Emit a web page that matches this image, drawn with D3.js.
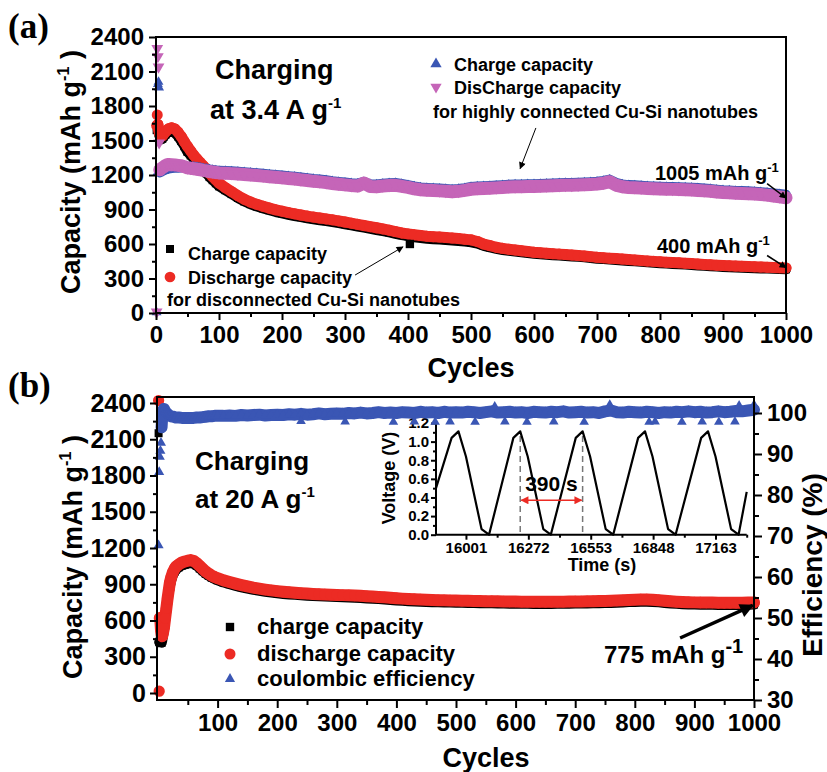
<!DOCTYPE html>
<html>
<head>
<meta charset="utf-8">
<script src="https://cdn.jsdelivr.net/npm/d3@7"></script>
<style>
  body { margin: 0; background: #fff; }
  svg { display: block; }
  text { font-family: "Liberation Sans", Arial, sans-serif; font-weight: bold; fill: #000; }
</style>
</head>
<body>
<svg id="chart" width="827" height="772"></svg>
<script>
// ---------- panel (a) data ----------
const cyclesA = [1,2,3,4,5,6,8,10,12,15,18,20,25,30,35,40,45,50,55,60,65,70,75,80,85,90,95,100,
  110,120,130,140,150,160,170,180,190,200,
  210,220,230,240,250,260,270,280,290,300,
  310,320,330,340,350,360,370,380,390,400,
  410,420,430,440,450,460,470,480,490,500,
  510,520,530,540,550,560,570,580,590,600,
  610,620,630,640,650,660,670,680,690,700,
  710,720,730,740,750,760,770,780,790,800,
  810,820,830,840,850,860,870,880,890,900,
  910,920,930,940,950,960,970,980,990,1000];

// highly connected: charge (blue) / discharge (magenta)
const chargeHighA = [5,1218,1990,2010,1960,1222,1228,1235,1240,1248,1252,1256,1260,1262,1264,1266,1268,1270,1272,1272,1268,1264,1258,1254,1248,1244,1240,1236,
  1235,1232,1228,1224,1220,1215,1210,1205,1200,1195,
  1190,1185,1178,1172,1165,1160,1154,1146,1140,1134,
  1128,1125,1140,1120,1118,1124,1128,1130,1122,1112,
  1100,1092,1088,1085,1082,1078,1075,1078,1086,1096,
  1100,1102,1105,1108,1112,1115,1117,1118,1120,1120,
  1122,1124,1126,1128,1130,1130,1132,1135,1138,1142,
  1148,1160,1132,1118,1112,1110,1106,1103,1100,1098,
  1096,1095,1093,1092,1090,1086,1082,1078,1073,1068,
  1065,1062,1060,1058,1055,1050,1046,1040,1034,1028];
const dischargeHighA = [10,2300,2230,2140,1480,1245,1255,1262,1270,1282,1290,1292,1290,1288,1284,1280,1272,1262,1258,1255,1250,1246,1240,1236,1230,1226,1222,1218,
  1215,1212,1208,1204,1200,1195,1190,1185,1180,1175,
  1170,1165,1158,1152,1145,1140,1134,1126,1120,1114,
  1108,1104,1130,1100,1098,1104,1108,1110,1102,1092,
  1080,1072,1068,1065,1062,1058,1055,1058,1066,1076,
  1080,1082,1085,1088,1092,1095,1097,1098,1100,1100,
  1102,1104,1106,1108,1110,1110,1112,1115,1118,1122,
  1128,1142,1112,1098,1092,1090,1086,1083,1080,1078,
  1076,1075,1073,1072,1070,1066,1062,1058,1053,1048,
  1045,1042,1040,1038,1035,1030,1025,1018,1010,1002];

// disconnected: charge (black) / discharge (red)
const chargeDiscA = [1590,1600,1590,1570,1550,1530,1510,1515,1530,1550,1565,1572,1580,1565,1535,1495,1450,1400,1370,1340,1305,1275,1245,1215,1182,1155,1128,1102,
  1068,1034,1000,970,946,926,909,893,878,866,
  854,843,833,824,815,807,799,791,782,772,
  762,752,742,732,722,712,701,689,677,668,
  658,652,646,642,638,634,630,626,621,615,
  604,584,570,558,548,541,534,527,521,515,
  511,507,503,499,495,492,488,484,478,472,
  469,465,461,457,453,449,445,441,437,433,
  430,427,424,421,418,414,410,407,404,401,
  398,396,394,392,390,388,386,384,382,380];
const dischargeDiscA = [1630,1722,1640,1600,1575,1555,1535,1540,1555,1575,1592,1602,1610,1600,1572,1535,1490,1448,1410,1372,1340,1310,1280,1250,1215,1185,1158,1130,
  1090,1055,1020,990,965,945,928,912,897,885,
  873,862,852,843,834,826,818,810,801,791,
  781,771,761,751,741,731,720,708,696,688,
  680,674,668,664,660,656,652,648,642,636,
  622,600,586,572,562,555,548,541,535,528,
  524,520,516,512,508,505,500,496,490,484,
  481,477,473,469,465,461,457,453,449,445,
  442,439,436,433,430,426,422,419,416,413,
  410,408,406,404,402,400,398,396,394,392];

// single marked point the arrow points at
const markedCycleA = [403];
const markedValueA = [600];

// ---------- panel (b) data ----------
const cyclesB = [1,2,3,4,5,6,7,8,10,12,14,16,18,20,22,25,28,30,35,40,45,50,55,60,65,70,75,80,85,90,95,100,
  110,120,130,140,150,160,170,180,190,200,
  210,220,230,240,250,260,270,280,290,300,
  310,320,330,340,350,360,370,380,390,400,
  410,420,430,440,450,460,470,480,490,500,
  510,520,530,540,550,560,570,580,590,600,
  610,620,630,640,650,660,670,680,690,700,
  710,720,730,740,750,760,770,780,790,800,
  810,820,830,840,850,860,870,880,890,900,
  910,920,930,940,950,960,970,980,990,1000];
const chargeB = [2150,420,430,440,420,415,430,460,520,600,680,760,830,885,930,975,1005,1020,1040,1055,1063,1070,1075,1068,1052,1030,1008,986,970,955,943,933,
  914,900,887,875,864,854,846,838,831,825,
  820,816,812,808,805,802,800,798,796,794,
  792,790,788,786,783,780,777,774,770,766,
  763,760,758,756,754,752,750,749,748,747,
  746,745,744,743,742,742,741,740,739,739,
  738,738,737,737,737,737,738,738,739,740,
  740,741,742,743,744,745,747,749,752,754,
  756,756,754,750,745,741,738,735,733,732,
  731,730,730,729,729,728,728,729,730,732];
const dischargeB = [2420,15,620,600,520,480,470,490,540,620,700,780,850,915,955,1000,1030,1045,1065,1080,1088,1095,1100,1092,1075,1052,1028,1005,988,972,960,950,
  932,918,905,893,882,872,864,856,849,843,
  838,834,830,826,823,820,818,816,814,812,
  810,808,806,804,801,798,795,792,788,784,
  781,778,776,774,772,770,768,767,766,765,
  764,763,762,761,760,760,759,758,757,757,
  756,756,755,755,755,755,756,756,757,758,
  758,759,760,761,762,763,765,767,770,772,
  774,774,772,768,763,759,756,753,751,750,
  749,748,748,747,747,746,746,747,748,750];
const efficiencyB = [67.7,85.6,89.3,90.8,92.7,96.5,99.0,100.5,101.0,100.4,100.1,99.8,99.5,99.3,99.2,99.1,99.0,98.9,98.9,98.8,98.8,98.8,98.8,98.8,98.9,98.9,99.0,99.1,99.2,99.2,99.3,99.3,
  99.3,99.4,99.3,99.5,99.4,99.5,99.6,99.4,99.5,99.6,
  99.5,99.7,99.6,99.8,99.6,99.7,99.9,99.7,99.8,99.9,
  99.8,100.0,99.9,100.1,99.9,100.0,100.2,100.0,100.1,100.0,
  100.2,100.1,100.0,100.3,100.1,100.2,100.0,100.3,100.1,100.2,
  100.1,100.3,100.2,100.0,100.2,100.4,100.1,100.2,100.3,100.1,
  100.2,100.0,100.3,100.2,100.1,100.3,100.2,100.4,100.1,100.2,
  100.3,100.1,100.2,100.0,100.4,100.6,100.2,100.1,100.3,100.2,
  100.1,100.3,100.2,100.0,100.2,100.1,100.3,100.2,100.4,100.2,
  100.3,100.1,100.2,100.4,100.2,100.3,100.5,100.4,100.6,100.8];
// scattered efficiency points off the main band
const effOutCycles = [240,314,395,430,465,490,532,565,582,619,664,715,758,824,834,879,913,941,968,975,1000];
const effOutValues = [98.0,97.9,97.8,97.9,97.8,97.9,97.8,101.6,97.9,97.8,97.9,97.8,102.0,97.8,97.9,97.8,97.9,97.8,97.9,101.8,102.0];

// ---------- inset data ----------
const insetTickLabels = ["16001", "16272", "16553", "16848", "17163"];
const insetPos = [-0.48, -0.23,-0.12,0.0,0.25,0.37, 0.76,0.87,0.99,1.24,1.36, 1.76,1.87,1.99,2.24,2.36, 2.76,2.87,2.99,3.24,3.36, 3.77,3.88,4.0,4.25,4.37, 4.5];
const insetVolt = [0.50, 1.04,1.11,0.84,0.06,0.0, 1.04,1.11,0.84,0.06,0.0, 1.04,1.11,0.84,0.06,0.0, 1.04,1.11,0.84,0.06,0.0, 1.04,1.11,0.84,0.06,0.0, 0.46];
const periodMarks = [0.87, 1.87];   // peaks used for the 390 s marker

// ---------- tick lists ----------
const cycleTicks = [0,100,200,300,400,500,600,700,800,900,1000];
const cycleMinor = [50,150,250,350,450,550,650,750,850,950];
const capTicks = [0,300,600,900,1200,1500,1800,2100,2400];
const capMinor = [150,450,750,1050,1350,1650,1950,2250];
const effTicks = [30,40,50,60,70,80,90,100];
const effMinor = [35,45,55,65,75,85,95];
const voltTicks = [0,0.2,0.4,0.6,0.8,1.0,1.2];
const voltMinor = [0.1,0.3,0.5,0.7,0.9,1.1];

const BLUE = "#3a56b4", MAGENTA = "#c565b8", RED = "#ec2b24", BLACK = "#000";
const intFmt = d3.format("d");

const svg = d3.select("#chart");
const defs = svg.append("defs");
function arrowMarker(id, w, h, color) {
  defs.append("marker").attr("id", id)
    .attr("viewBox", "0 0 10 10").attr("refX", 9).attr("refY", 5)
    .attr("markerWidth", w).attr("markerHeight", h)
    .attr("markerUnits", "userSpaceOnUse")
    .attr("orient", "auto-start-reverse")
    .append("path").attr("d", "M0,0 L10,5 L0,10 z").attr("fill", color);
}
arrowMarker("headThin", 9, 7, "#000");
arrowMarker("headThick", 16, 14, "#000");
arrowMarker("headRed", 9, 8, RED);

// ---------- helpers ----------
function styleAxis(g, size) {
  g.select(".domain").remove();
  g.selectAll(".tick line").attr("stroke", "#000").attr("stroke-width", 2);
  g.selectAll(".tick text").attr("font-size", size);
}
function band(g, xs, ys, from, x, y, color, width) {
  const pts = xs.map((c, i) => [c, ys[i]]).filter(p => p[0] >= from);
  g.append("path")
    .attr("d", d3.line().x(p => x(p[0])).y(p => y(p[1]))(pts))
    .attr("fill", "none").attr("stroke", color)
    .attr("stroke-width", width).attr("stroke-linejoin", "round").attr("stroke-linecap", "round");
}
function markers(g, xs, ys, x, y, type, size, color, rot) {
  const sym = d3.symbol().type(type).size(size);
  g.selectAll(null).data(xs.map((c, i) => [c, ys[i]])).join("path")
    .attr("d", sym)
    .attr("transform", p => `translate(${x(p[0])},${y(p[1])})` + (rot ? ` rotate(${rot})` : ""))
    .attr("fill", color);
}
function supText(g, x, y, main, sup, size, supSize, after) {
  const t = g.append("text").attr("x", x).attr("y", y).attr("font-size", size);
  t.append("tspan").text(main);
  t.append("tspan").attr("dy", -size * 0.42).attr("font-size", supSize).text(sup);
  if (after) t.append("tspan").attr("dy", size * 0.42).text(after);
  return t;
}
function plainText(g, x, y, str, size, anchor) {
  return g.append("text").attr("x", x).attr("y", y).attr("font-size", size)
    .attr("text-anchor", anchor || "start").text(str);
}
function rotatedTitle(g, cx, cy, main, sup, after, size, angle) {
  const t = g.append("text")
    .attr("transform", `translate(${cx},${cy}) rotate(${angle})`)
    .attr("text-anchor", "middle").attr("font-size", size);
  t.append("tspan").text(main);
  if (sup) {
    t.append("tspan").attr("dy", -size * 0.42).attr("font-size", size * 0.6).text(sup);
    t.append("tspan").attr("dy", size * 0.42).text(after);
  }
  return t;
}

// =================== Panel (a) ===================
const xA = d3.scaleLinear().domain([0, 1000]).range([156, 786]);
const yA = d3.scaleLinear().domain([0, 2400]).range([313, 37]);
const gA = svg.append("g");

// data
const dA = gA.append("g");
band(dA, cyclesA, chargeDiscA, 3, xA, yA, BLACK, 10);
markers(dA, cyclesA, chargeDiscA, xA, yA, d3.symbolSquare, 64, BLACK);
band(dA, cyclesA, dischargeDiscA, 3, xA, yA, RED, 11);
markers(dA, cyclesA, dischargeDiscA, xA, yA, d3.symbolCircle, 95, RED);
band(dA, cyclesA, chargeHighA, 6, xA, yA, BLUE, 10);
markers(dA, cyclesA, chargeHighA, xA, yA, d3.symbolTriangle, 42, BLUE);
band(dA, cyclesA, dischargeHighA, 6, xA, yA, MAGENTA, 13);
markers(dA, cyclesA, dischargeHighA, xA, yA, d3.symbolTriangle, 60, MAGENTA, 180);
markers(dA, markedCycleA, markedValueA, xA, yA, d3.symbolSquare, 70, BLACK);

// axes
gA.append("g").attr("transform", "translate(0,313)")
  .call(d3.axisBottom(xA).tickValues(cycleTicks).tickSize(7).tickPadding(6).tickFormat(intFmt))
  .call(g => styleAxis(g, 24));
gA.append("g").attr("transform", "translate(0,313)")
  .call(d3.axisBottom(xA).tickValues(cycleMinor).tickSize(4).tickFormat(""))
  .call(g => styleAxis(g, 0));
gA.append("g").attr("transform", "translate(156,0)")
  .call(d3.axisLeft(yA).tickValues(capTicks).tickSize(7).tickPadding(5).tickFormat(intFmt))
  .call(g => styleAxis(g, 24));
gA.append("g").attr("transform", "translate(156,0)")
  .call(d3.axisLeft(yA).tickValues(capMinor).tickSize(4).tickFormat(""))
  .call(g => styleAxis(g, 0));
gA.append("rect").attr("x", xA(0)).attr("y", yA(2400))
  .attr("width", xA(1000) - xA(0)).attr("height", yA(0) - yA(2400))
  .attr("fill", "none").attr("stroke", "#000").attr("stroke-width", 2);

rotatedTitle(gA, 80, 172, "Capacity (mAh g", "-1", " )", 27, -90);
plainText(gA, 471, 377, "Cycles", 27, "middle");
svg.append("text").attr("x", 8).attr("y", 38).attr("font-size", 35)
  .style("font-family", '"Liberation Serif", "Times New Roman", serif').text("(a)");

// annotations (a)
plainText(gA, 215, 79, "Charging", 27);
supText(gA, 210, 119, "at 3.4 A g", "-1", 27, 15);

markers(gA, [0], [0], () => 170, () => 249, d3.symbolSquare, 64, BLACK);
plainText(gA, 188, 260, "Charge capacity", 18);
markers(gA, [0], [0], () => 170, () => 277, d3.symbolCircle, 90, RED);
plainText(gA, 188, 284, "Discharge capacity", 18);
plainText(gA, 167, 306, "for disconnected Cu-Si nanotubes", 18);
gA.append("line").attr("x1", xA(316)).attr("y1", yA(330)).attr("x2", xA(392)).attr("y2", yA(575))
  .attr("stroke", "#000").attr("stroke-width", 1).attr("marker-end", "url(#headThin)");

markers(gA, [0], [0], () => 436, () => 64, d3.symbolTriangle, 55, BLUE);
plainText(gA, 454, 71, "Charge capacity", 18);
markers(gA, [0], [0], () => 436, () => 87, d3.symbolTriangle, 55, MAGENTA, 180);
plainText(gA, 454, 94, "DisCharge capacity", 18);
plainText(gA, 433, 118, "for highly connected Cu-Si nanotubes", 18);
gA.append("line").attr("x1", xA(603)).attr("y1", yA(1609)).attr("x2", xA(578)).attr("y2", yA(1255))
  .attr("stroke", "#000").attr("stroke-width", 1).attr("marker-end", "url(#headThin)");

supText(gA, 655, 180, "1005 mAh g", "-1", 20, 13);
gA.append("line").attr("x1", xA(970)).attr("y1", yA(1125)).attr("x2", xA(1000)).attr("y2", yA(1000))
  .attr("stroke", "#000").attr("stroke-width", 1.5).attr("marker-end", "url(#headThin)");
supText(gA, 657, 253, "400 mAh g", "-1", 20, 13);
gA.append("line").attr("x1", xA(970)).attr("y1", yA(500)).attr("x2", xA(1000)).attr("y2", yA(395))
  .attr("stroke", "#000").attr("stroke-width", 1.5).attr("marker-end", "url(#headThin)");

// =================== Panel (b) ===================
const xB = d3.scaleLinear().domain([0, 1000]).range([158, 754]);
const yB = d3.scaleLinear().domain([0, 2400]).range([693, 403]);
const yE = d3.scaleLinear().domain([30, 100]).range([700, 413]);
const gB = svg.append("g");

// inset
const xI = d3.scaleLinear().domain([-0.48, 4.5]).range([436, 746.7]);
const yI = d3.scaleLinear().domain([0, 1.2]).range([534.7, 423]);
const gI = gB.append("g");
gI.append("g").attr("transform", `translate(0,${yI(0)})`)
  .call(d3.axisBottom(xI).tickValues([0,1,2,3,4]).tickSize(5).tickPadding(3).tickFormat(i => insetTickLabels[i]))
  .call(g => styleAxis(g, 15));
gI.append("g").attr("transform", `translate(0,${yI(0)})`)
  .call(d3.axisBottom(xI).tickValues([0.5,1.5,2.5,3.5,4.5]).tickSize(3).tickFormat(""))
  .call(g => styleAxis(g, 0));
gI.append("g").attr("transform", `translate(${xI(-0.48)},0)`)
  .call(d3.axisLeft(yI).tickValues(voltTicks).tickSize(5).tickPadding(2).tickFormat(d3.format(".1f")))
  .call(g => styleAxis(g, 15));
gI.append("g").attr("transform", `translate(${xI(-0.48)},0)`)
  .call(d3.axisLeft(yI).tickValues(voltMinor).tickSize(3).tickFormat(""))
  .call(g => styleAxis(g, 0));
gI.append("line").attr("x1", xI(-0.48)).attr("x2", xI(4.5)).attr("y1", yI(0)).attr("y2", yI(0))
  .attr("stroke", "#000").attr("stroke-width", 2);
gI.append("line").attr("x1", xI(-0.48)).attr("x2", xI(-0.48)).attr("y1", yI(0)).attr("y2", yI(1.2))
  .attr("stroke", "#000").attr("stroke-width", 2);
periodMarks.forEach(u => {
  gI.append("line").attr("x1", xI(u)).attr("x2", xI(u)).attr("y1", yI(1.06)).attr("y2", yI(0))
    .attr("stroke", "#777").attr("stroke-width", 1.5).attr("stroke-dasharray", "6,4");
});
gI.append("path")
  .attr("d", d3.line().x((u, i) => xI(u)).y((u, i) => yI(insetVolt[i]))(insetPos))
  .attr("fill", "none").attr("stroke", "#000").attr("stroke-width", 2.2).attr("stroke-linejoin", "round");
gI.append("line").attr("x1", xI(periodMarks[0]) + 1).attr("x2", xI(periodMarks[1]) - 1)
  .attr("y1", yI(0.37)).attr("y2", yI(0.37))
  .attr("stroke", RED).attr("stroke-width", 1.5)
  .attr("marker-start", "url(#headRed)").attr("marker-end", "url(#headRed)");
plainText(gI, (xI(periodMarks[0]) + xI(periodMarks[1])) / 2, 491, "390 s", 21, "middle");
plainText(gI, 602, 571, "Time (s)", 18, "middle");
rotatedTitle(gI, 395, 478, "Voltage (V)", null, null, 18, -90);

// data
const dB = gB.append("g");
band(dB, cyclesB, chargeB, 2, xB, yB, BLACK, 10);
markers(dB, cyclesB, chargeB, xB, yB, d3.symbolSquare, 64, BLACK);
band(dB, cyclesB, dischargeB, 3, xB, yB, RED, 12);
markers(dB, cyclesB, dischargeB, xB, yB, d3.symbolCircle, 100, RED);
band(dB, cyclesB, efficiencyB, 6, xB, yE, BLUE, 12);
markers(dB, cyclesB, efficiencyB, xB, yE, d3.symbolTriangle, 44, BLUE);
markers(dB, effOutCycles, effOutValues, xB, yE, d3.symbolTriangle, 40, BLUE);

// axes
gB.append("g").attr("transform", "translate(0,700)")
  .call(d3.axisBottom(xB).tickValues(cycleTicks.slice(1)).tickSize(8).tickPadding(6).tickFormat(intFmt))
  .call(g => styleAxis(g, 24));
gB.append("g").attr("transform", "translate(0,700)")
  .call(d3.axisBottom(xB).tickValues(cycleMinor).tickSize(5).tickFormat(""))
  .call(g => styleAxis(g, 0));
gB.append("g").attr("transform", "translate(157,0)")
  .call(d3.axisLeft(yB).tickValues(capTicks).tickSize(7).tickPadding(4).tickFormat(intFmt))
  .call(g => styleAxis(g, 25));
gB.append("g").attr("transform", "translate(157,0)")
  .call(d3.axisLeft(yB).tickValues(capMinor).tickSize(4).tickFormat(""))
  .call(g => styleAxis(g, 0));
gB.append("g").attr("transform", "translate(754,0)")
  .call(d3.axisRight(yE).tickValues(effTicks).tickSize(8).tickPadding(5).tickFormat(intFmt))
  .call(g => styleAxis(g, 24));
gB.append("g").attr("transform", "translate(754,0)")
  .call(d3.axisRight(yE).tickValues(effMinor).tickSize(5).tickFormat(""))
  .call(g => styleAxis(g, 0));
gB.append("rect").attr("x", 157).attr("y", 397).attr("width", 754 - 157).attr("height", 700 - 397)
  .attr("fill", "none").attr("stroke", "#000").attr("stroke-width", 2);

rotatedTitle(gB, 82, 557, "Capacity (mAh g", "-1", " )", 27, -90);
rotatedTitle(gB, 822, 565, "Efficiency (%)", null, null, 28, -90);
plainText(gB, 486, 767, "Cycles", 27, "middle");
svg.append("text").attr("x", 8).attr("y", 397).attr("font-size", 35)
  .style("font-family", '"Liberation Serif", "Times New Roman", serif').text("(b)");

// annotations (b)
plainText(gB, 195, 470, "Charging", 26);
supText(gB, 195, 508, "at 20 A g", "-1", 26, 15);
markers(gB, [0], [0], () => 230, () => 627, d3.symbolSquare, 70, BLACK);
plainText(gB, 257, 634, "charge capacity", 22);
markers(gB, [0], [0], () => 230, () => 654, d3.symbolCircle, 95, RED);
plainText(gB, 257, 661, "discharge capacity", 22);
markers(gB, [0], [0], () => 230, () => 679, d3.symbolTriangle, 45, BLUE);
plainText(gB, 257, 686, "coulombic efficiency", 22);
supText(gB, 604, 663, "775 mAh g", "-1", 24, 20);
gB.append("line").attr("x1", xB(876)).attr("y1", yB(455)).attr("x2", xB(998)).attr("y2", yB(725))
  .attr("stroke", "#000").attr("stroke-width", 3.5).attr("marker-end", "url(#headThick)");
</script>
</body>
</html>
